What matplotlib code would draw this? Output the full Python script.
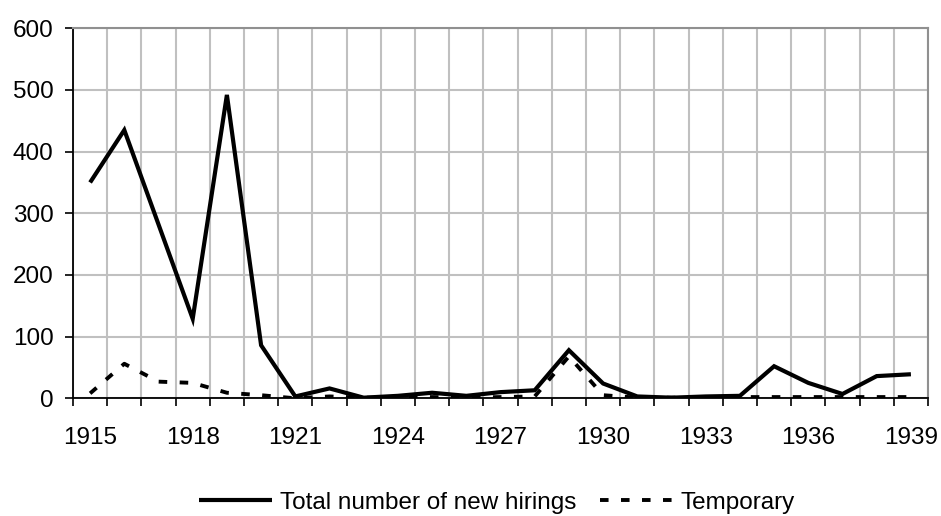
import matplotlib
matplotlib.use("Agg")
import matplotlib.pyplot as plt
import numpy as np

years = list(range(1915, 1940))
total = [350, 435, 282, 129, 492, 86, 3, 16, 1, 4, 9, 4, 10, 13, 78, 24, 3, 1, 3, 4, 52, 25, 7, 36, 39]
temporary = [8, 56, 27, 25, 9, 5, 0, 3, 1, 1, 2, 1, 2, 3, 68, 5, 1, 1, 1, 2, 2, 2, 2, 2, 2]
y_ticks = [0, 100, 200, 300, 400, 500, 600]
label_years = [1915, 1918, 1921, 1924, 1927, 1930, 1933, 1936, 1939]

plt.rcParams['font.family'] = ['Liberation Sans', 'DejaVu Sans']
FS = 17.5

fig = plt.figure(figsize=(9.41, 5.16), dpi=100)
ax = fig.add_axes([73/941, 1 - 398.3/516, (928-73)/941, (398.3-28.3)/516])

x = np.arange(len(years))
ax.plot(x, total, color='black', lw=3.0, solid_joinstyle='miter', solid_capstyle='butt',
        label='Total number of new hirings', zorder=3)
ax.plot(x, temporary, color='black', lw=2.8, linestyle=(0, (2.2, 3.2)), dash_capstyle='butt',
        label='Temporary', zorder=3)

ax.set_xlim(-0.5, len(years) - 0.5)
ax.set_ylim(0, 600)

# major ticks: labels only
ax.set_xticks([years.index(y) for y in label_years])
ax.set_xticklabels([str(y) for y in label_years], fontsize=FS)
ax.tick_params(axis='x', which='major', length=0, pad=21)
# minor ticks at category boundaries
ax.set_xticks(np.arange(-0.5, len(years), 1.0), minor=True)
ax.tick_params(axis='x', which='minor', length=6, width=1.2, direction='out', color='black')
ax.grid(True, which='minor', axis='x', color='#c0c0c0', lw=1.5, zorder=0)

ax.set_yticks(y_ticks)
ax.set_yticklabels([str(v) for v in y_ticks], fontsize=FS)
ax.tick_params(axis='y', length=6, width=1.2, direction='out', pad=8)
ax.grid(True, which='major', axis='y', color='#c0c0c0', lw=1.5, zorder=0)
ax.set_axisbelow(True)

for s in ['top', 'right']:
    ax.spines[s].set_color('#909090')
    ax.spines[s].set_linewidth(1.5)
for s in ['left', 'bottom']:
    ax.spines[s].set_color('black')
    ax.spines[s].set_linewidth(1.3)

fig.legend(loc='center', bbox_to_anchor=(497/941, 1 - 503/516), ncol=2, frameon=False,
           fontsize=FS, handlelength=3.0, handletextpad=0.3, columnspacing=1.0,
           borderaxespad=0, borderpad=0)

fig.savefig('out.png', dpi=100)
